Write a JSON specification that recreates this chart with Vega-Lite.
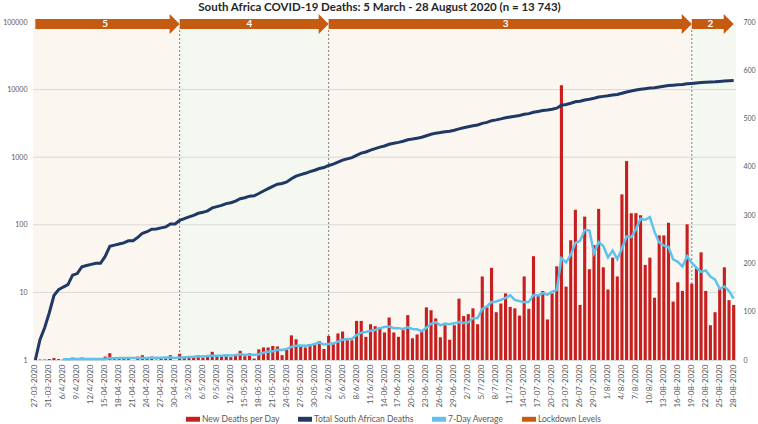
{
  "$schema": "https://vega.github.io/schema/vega-lite/v6.json",
  "width": 703,
  "height": 338,
  "autosize": {"type": "none"},
  "padding": {"left": 33, "top": 22, "right": 22, "bottom": 64},
  "background": "white",
  "title": {
    "text": "South Africa COVID-19 Deaths: 5 March - 28 August 2020 (n = 13 743)",
    "font": "Lato", "fontSize": 11.5, "fontWeight": "bold", "color": "#262626",
    "anchor": "middle", "frame": "group", "offset": 1, "dx": -5
  },
  "config": {
    "font": "Lato",
    "view": {"stroke": null, "fill": "#FCF6F1"}
  },
  "datasets": {
    "main": [
      {"d":"27-03-2020","n":1,"t":1,"a":null},
      {"d":"28-03-2020","n":1,"t":2,"a":null},
      {"d":"30-03-2020","n":1,"t":3,"a":null},
      {"d":"31-03-2020","n":2,"t":5,"a":null},
      {"d":"2/4/2020","n":4,"t":9,"a":null},
      {"d":"3/4/2020","n":2,"t":11,"a":null},
      {"d":"6/4/2020","n":1,"t":12,"a":1.7},
      {"d":"7/4/2020","n":1,"t":13,"a":1.7},
      {"d":"8/4/2020","n":5,"t":18,"a":2.3},
      {"d":"9/4/2020","n":1,"t":19,"a":2.3},
      {"d":"10/4/2020","n":5,"t":24,"a":2.7},
      {"d":"11/4/2020","n":1,"t":25,"a":2.3},
      {"d":"12/4/2020","n":1,"t":26,"a":2.1},
      {"d":"13-04-2020","n":1,"t":27,"a":2.1},
      {"d":"14-04-2020","n":0,"t":27,"a":2.0},
      {"d":"15-04-2020","n":7,"t":34,"a":2.3},
      {"d":"16-04-2020","n":14,"t":48,"a":4.1},
      {"d":"17-04-2020","n":2,"t":50,"a":3.7},
      {"d":"18-04-2020","n":2,"t":52,"a":3.9},
      {"d":"19-04-2020","n":2,"t":54,"a":4.0},
      {"d":"20-04-2020","n":4,"t":58,"a":4.4},
      {"d":"21-04-2020","n":0,"t":58,"a":4.4},
      {"d":"22-04-2020","n":7,"t":65,"a":4.4},
      {"d":"23-04-2020","n":10,"t":75,"a":3.9},
      {"d":"24-04-2020","n":4,"t":79,"a":4.1},
      {"d":"25-04-2020","n":7,"t":86,"a":4.9},
      {"d":"26-04-2020","n":1,"t":87,"a":4.7},
      {"d":"27-04-2020","n":3,"t":90,"a":4.6},
      {"d":"28-04-2020","n":3,"t":93,"a":5.0},
      {"d":"29-04-2020","n":10,"t":103,"a":5.4},
      {"d":"30-04-2020","n":0,"t":103,"a":4.0},
      {"d":"1/5/2020","n":13,"t":116,"a":5.3},
      {"d":"2/5/2020","n":7,"t":123,"a":5.3},
      {"d":"3/5/2020","n":8,"t":131,"a":6.3},
      {"d":"4/5/2020","n":7,"t":138,"a":6.9},
      {"d":"5/5/2020","n":10,"t":148,"a":7.9},
      {"d":"6/5/2020","n":5,"t":153,"a":7.1},
      {"d":"7/5/2020","n":8,"t":161,"a":8.3},
      {"d":"8/5/2020","n":17,"t":178,"a":8.9},
      {"d":"9/5/2020","n":8,"t":186,"a":9.0},
      {"d":"10/5/2020","n":8,"t":194,"a":9.0},
      {"d":"11/5/2020","n":12,"t":206,"a":9.7},
      {"d":"12/5/2020","n":6,"t":212,"a":9.1},
      {"d":"13-05-2020","n":12,"t":224,"a":10.1},
      {"d":"14-05-2020","n":19,"t":243,"a":11.7},
      {"d":"15-05-2020","n":8,"t":251,"a":10.4},
      {"d":"16-05-2020","n":14,"t":265,"a":11.3},
      {"d":"17-05-2020","n":3,"t":268,"a":10.6},
      {"d":"18-05-2020","n":22,"t":290,"a":12.0},
      {"d":"19-05-2020","n":26,"t":316,"a":14.9},
      {"d":"20-05-2020","n":26,"t":342,"a":16.9},
      {"d":"21-05-2020","n":29,"t":371,"a":18.3},
      {"d":"22-05-2020","n":28,"t":399,"a":21.1},
      {"d":"23-05-2020","n":10,"t":409,"a":20.6},
      {"d":"24-05-2020","n":21,"t":430,"a":23.1},
      {"d":"25-05-2020","n":51,"t":481,"a":27.3},
      {"d":"26-05-2020","n":43,"t":524,"a":29.7},
      {"d":"27-05-2020","n":28,"t":552,"a":30.0},
      {"d":"28-05-2020","n":26,"t":578,"a":29.6},
      {"d":"29-05-2020","n":33,"t":611,"a":30.3},
      {"d":"30-05-2020","n":31,"t":642,"a":33.3},
      {"d":"31-05-2020","n":39,"t":681,"a":35.9},
      {"d":"1/6/2020","n":23,"t":704,"a":31.9},
      {"d":"2/6/2020","n":50,"t":754,"a":32.9},
      {"d":"3/6/2020","n":36,"t":790,"a":34.0},
      {"d":"4/6/2020","n":55,"t":845,"a":38.1},
      {"d":"5/6/2020","n":59,"t":904,"a":41.9},
      {"d":"6/6/2020","n":41,"t":945,"a":43.3},
      {"d":"7/6/2020","n":41,"t":986,"a":43.6},
      {"d":"8/6/2020","n":81,"t":1067,"a":51.9},
      {"d":"9/6/2020","n":81,"t":1148,"a":56.3},
      {"d":"10/6/2020","n":48,"t":1196,"a":58.0},
      {"d":"11/6/2020","n":74,"t":1270,"a":60.7},
      {"d":"12/6/2020","n":70,"t":1340,"a":62.3},
      {"d":"13-06-2020","n":68,"t":1408,"a":66.1},
      {"d":"14-06-2020","n":57,"t":1465,"a":68.4},
      {"d":"15-06-2020","n":88,"t":1553,"a":69.4},
      {"d":"16-06-2020","n":57,"t":1610,"a":66.0},
      {"d":"17-06-2020","n":48,"t":1658,"a":66.0},
      {"d":"18-06-2020","n":62,"t":1720,"a":64.3},
      {"d":"19-06-2020","n":93,"t":1813,"a":67.6},
      {"d":"20-06-2020","n":45,"t":1858,"a":64.3},
      {"d":"21-06-2020","n":53,"t":1911,"a":63.7},
      {"d":"22-06-2020","n":59,"t":1970,"a":59.6},
      {"d":"23-06-2020","n":109,"t":2079,"a":67.0},
      {"d":"24-06-2020","n":103,"t":2182,"a":74.9},
      {"d":"25-06-2020","n":86,"t":2268,"a":78.3},
      {"d":"26-06-2020","n":47,"t":2315,"a":71.7},
      {"d":"27-06-2020","n":72,"t":2387,"a":75.6},
      {"d":"28-06-2020","n":42,"t":2429,"a":74.0},
      {"d":"29-06-2020","n":72,"t":2501,"a":75.9},
      {"d":"30-06-2020","n":127,"t":2628,"a":78.4},
      {"d":"1/7/2020","n":91,"t":2719,"a":76.7},
      {"d":"2/7/2020","n":95,"t":2814,"a":78.0},
      {"d":"3/7/2020","n":107,"t":2921,"a":86.6},
      {"d":"4/7/2020","n":74,"t":2995,"a":86.9},
      {"d":"5/7/2020","n":173,"t":3168,"a":105.6},
      {"d":"6/7/2020","n":110,"t":3278,"a":111.0},
      {"d":"7/7/2020","n":191,"t":3469,"a":120.1},
      {"d":"8/7/2020","n":99,"t":3568,"a":121.3},
      {"d":"9/7/2020","n":117,"t":3685,"a":124.4},
      {"d":"10/7/2020","n":138,"t":3823,"a":128.9},
      {"d":"11/7/2020","n":110,"t":3933,"a":134.0},
      {"d":"12/7/2020","n":107,"t":4040,"a":124.6},
      {"d":"13-07-2020","n":92,"t":4132,"a":122.0},
      {"d":"14-07-2020","n":173,"t":4305,"a":119.4},
      {"d":"15-07-2020","n":106,"t":4411,"a":120.4},
      {"d":"16-07-2020","n":215,"t":4626,"a":134.4},
      {"d":"17-07-2020","n":133,"t":4759,"a":133.7},
      {"d":"18-07-2020","n":143,"t":4902,"a":138.4},
      {"d":"19-07-2020","n":84,"t":4986,"a":135.1},
      {"d":"20-07-2020","n":138,"t":5124,"a":141.7},
      {"d":"21-07-2020","n":194,"t":5318,"a":144.7},
      {"d":"22-07-2020","n":569,"t":5887,"a":210.9},
      {"d":"23-07-2020","n":152,"t":6039,"a":201.9},
      {"d":"24-07-2020","n":248,"t":6287,"a":218.3},
      {"d":"25-07-2020","n":311,"t":6598,"a":242.3},
      {"d":"26-07-2020","n":114,"t":6712,"a":246.6},
      {"d":"27-07-2020","n":297,"t":7009,"a":269.3},
      {"d":"28-07-2020","n":188,"t":7197,"a":268.4},
      {"d":"29-07-2020","n":238,"t":7435,"a":221.1},
      {"d":"30-07-2020","n":313,"t":7748,"a":244.1},
      {"d":"31-07-2020","n":192,"t":7940,"a":236.1},
      {"d":"1/8/2020","n":146,"t":8086,"a":212.6},
      {"d":"2/8/2020","n":212,"t":8298,"a":226.6},
      {"d":"3/8/2020","n":173,"t":8471,"a":208.9},
      {"d":"4/8/2020","n":343,"t":8814,"a":231.0},
      {"d":"5/8/2020","n":412,"t":9226,"a":255.9},
      {"d":"6/8/2020","n":304,"t":9530,"a":254.6},
      {"d":"7/8/2020","n":304,"t":9834,"a":270.6},
      {"d":"8/8/2020","n":300,"t":10134,"a":292.6},
      {"d":"9/8/2020","n":197,"t":10331,"a":290.4},
      {"d":"10/8/2020","n":212,"t":10543,"a":296.0},
      {"d":"11/8/2020","n":129,"t":10672,"a":265.4},
      {"d":"12/8/2020","n":258,"t":10930,"a":243.4},
      {"d":"13-08-2020","n":258,"t":11188,"a":236.9},
      {"d":"14-08-2020","n":284,"t":11472,"a":234.0},
      {"d":"15-08-2020","n":121,"t":11593,"a":208.4},
      {"d":"16-08-2020","n":161,"t":11754,"a":203.3},
      {"d":"17-08-2020","n":143,"t":11897,"a":193.4},
      {"d":"18-08-2020","n":281,"t":12178,"a":215.1},
      {"d":"19-08-2020","n":158,"t":12336,"a":200.9},
      {"d":"20-08-2020","n":190,"t":12526,"a":191.1},
      {"d":"21-08-2020","n":223,"t":12749,"a":182.4},
      {"d":"22-08-2020","n":143,"t":12892,"a":185.6},
      {"d":"23-08-2020","n":72,"t":12964,"a":172.9},
      {"d":"24-08-2020","n":99,"t":13063,"a":166.6},
      {"d":"25-08-2020","n":147,"t":13210,"a":147.4},
      {"d":"26-08-2020","n":192,"t":13402,"a":152.3},
      {"d":"27-08-2020","n":124,"t":13526,"a":142.9},
      {"d":"28-08-2020","n":114,"t":13640,"a":127.3}
    ],
    "levels": [
      {"level":"5","start":"27-03-2020","end":"1/5/2020","mid":"15-04-2020"},
      {"level":"4","start":"1/5/2020","end":"2/6/2020","mid":"16-05-2020"},
      {"level":"3","start":"2/6/2020","end":"19-08-2020","mid":"10/7/2020"},
      {"level":"2","start":"19-08-2020","end":"28-08-2020","mid":"23-08-2020"}
    ],
    "grid": [{"g":10},{"g":100},{"g":1000},{"g":10000}]
  },
  "resolve": {"scale": {"y": "independent"}},
  "layer": [
    {
      "data": {"name": "main"},
      "mark": {"type": "bar", "opacity": 0},
      "encoding": {
        "x": {
          "field": "d", "type": "ordinal",
          "scale": {
            "type": "band", "paddingInner": 0.33, "paddingOuter": 0.165,
            "domain": ["27-03-2020","28-03-2020","30-03-2020","31-03-2020","2/4/2020","3/4/2020","6/4/2020","7/4/2020","8/4/2020","9/4/2020","10/4/2020","11/4/2020","12/4/2020","13-04-2020","14-04-2020","15-04-2020","16-04-2020","17-04-2020","18-04-2020","19-04-2020","20-04-2020","21-04-2020","22-04-2020","23-04-2020","24-04-2020","25-04-2020","26-04-2020","27-04-2020","28-04-2020","29-04-2020","30-04-2020","1/5/2020","2/5/2020","3/5/2020","4/5/2020","5/5/2020","6/5/2020","7/5/2020","8/5/2020","9/5/2020","10/5/2020","11/5/2020","12/5/2020","13-05-2020","14-05-2020","15-05-2020","16-05-2020","17-05-2020","18-05-2020","19-05-2020","20-05-2020","21-05-2020","22-05-2020","23-05-2020","24-05-2020","25-05-2020","26-05-2020","27-05-2020","28-05-2020","29-05-2020","30-05-2020","31-05-2020","1/6/2020","2/6/2020","3/6/2020","4/6/2020","5/6/2020","6/6/2020","7/6/2020","8/6/2020","9/6/2020","10/6/2020","11/6/2020","12/6/2020","13-06-2020","14-06-2020","15-06-2020","16-06-2020","17-06-2020","18-06-2020","19-06-2020","20-06-2020","21-06-2020","22-06-2020","23-06-2020","24-06-2020","25-06-2020","26-06-2020","27-06-2020","28-06-2020","29-06-2020","30-06-2020","1/7/2020","2/7/2020","3/7/2020","4/7/2020","5/7/2020","6/7/2020","7/7/2020","8/7/2020","9/7/2020","10/7/2020","11/7/2020","12/7/2020","13-07-2020","14-07-2020","15-07-2020","16-07-2020","17-07-2020","18-07-2020","19-07-2020","20-07-2020","21-07-2020","22-07-2020","23-07-2020","24-07-2020","25-07-2020","26-07-2020","27-07-2020","28-07-2020","29-07-2020","30-07-2020","31-07-2020","1/8/2020","2/8/2020","3/8/2020","4/8/2020","5/8/2020","6/8/2020","7/8/2020","8/8/2020","9/8/2020","10/8/2020","11/8/2020","12/8/2020","13-08-2020","14-08-2020","15-08-2020","16-08-2020","17-08-2020","18-08-2020","19-08-2020","20-08-2020","21-08-2020","22-08-2020","23-08-2020","24-08-2020","25-08-2020","26-08-2020","27-08-2020","28-08-2020"]
          },
          "axis": {
            "values": ["27-03-2020","31-03-2020","6/4/2020","9/4/2020","12/4/2020","15-04-2020","18-04-2020","21-04-2020","24-04-2020","27-04-2020","30-04-2020","3/5/2020","6/5/2020","9/5/2020","12/5/2020","15-05-2020","18-05-2020","21-05-2020","24-05-2020","27-05-2020","30-05-2020","2/6/2020","5/6/2020","8/6/2020","11/6/2020","14-06-2020","17-06-2020","20-06-2020","23-06-2020","26-06-2020","29-06-2020","2/7/2020","5/7/2020","8/7/2020","11/7/2020","14-07-2020","17-07-2020","20-07-2020","23-07-2020","26-07-2020","29-07-2020","1/8/2020","4/8/2020","7/8/2020","10/8/2020","13-08-2020","16-08-2020","19-08-2020","22-08-2020","25-08-2020","28-08-2020"],
            "labelAngle": -90, "labelFont": "Lato", "labelFontSize": 8, "labelColor": "#595959",
            "ticks": false, "labelPadding": 4, "domain": true, "domainColor": "#D9D9D9",
            "title": null, "grid": false, "labelOverlap": false, "labelBound": false
          }
        },
        "y": {
          "field": "n", "type": "quantitative",
          "scale": {"domain": [0, 700], "nice": false},
          "axis": {
            "orient": "right", "values": [0, 100, 200, 300, 400, 500, 600, 700], "format": "d",
            "labelFont": "Lato", "labelFontSize": 7, "labelColor": "#595959",
            "ticks": false, "domain": false, "grid": false, "title": null, "labelPadding": 7
          }
        }
      }
    },
    {
      "data": {"name": "levels"},
      "transform": [{"filter": "datum.level == '4'"}],
      "mark": {"type": "rect", "color": "#F4F8F1"},
      "encoding": {
        "x": {"field": "start", "type": "ordinal", "bandPosition": 0.5},
        "x2": {"field": "end", "bandPosition": 0.5},
        "y": {"value": 0},
        "y2": {"value": "height"}
      }
    },
    {
      "data": {"name": "levels"},
      "transform": [{"filter": "datum.level == '2'"}],
      "mark": {"type": "rect", "color": "#F4F8F1"},
      "encoding": {
        "x": {"field": "start", "type": "ordinal", "bandPosition": 0.5},
        "x2": {"value": "width"},
        "y": {"value": 0},
        "y2": {"value": "height"}
      }
    },
    {
      "data": {"name": "grid"},
      "mark": {"type": "rule", "color": "#D9D9D9", "strokeWidth": 1},
      "encoding": {
        "y": {"field": "g", "type": "quantitative", "scale": {"type": "log", "domain": [1, 100000], "nice": false}, "axis": null}
      }
    },
    {
      "data": {"name": "levels"},
      "transform": [{"filter": "datum.level != '5'"}],
      "mark": {"type": "rule", "color": "#7F7F7F", "strokeDash": [2, 2], "strokeWidth": 1},
      "encoding": {
        "x": {"field": "start", "type": "ordinal", "bandPosition": 0.5},
        "y": {"value": 8},
        "y2": {"value": "height"}
      }
    },
    {
      "data": {"name": "main"},
      "mark": {"type": "bar"},
      "encoding": {
        "x": {"field": "d", "type": "ordinal"},
        "y": {
          "field": "n", "type": "quantitative",
          "scale": {"domain": [0, 700], "nice": false},
          "axis": null
        },
        "color": {
          "datum": "New Deaths per Day", "type": "nominal",
          "scale": {
            "domain": ["New Deaths per Day", "Total South African Deaths", "7-Day Average", "Lockdown Levels"],
            "range": ["#C81E1E", "#1F3864", "#5EC2EC", "#C55A11"]
          },
          "legend": {
            "orient": "none", "legendX": 153, "legendY": 390, "direction": "horizontal", "columns": 4,
            "title": null, "labelFont": "Lato", "labelFontSize": 8.5, "labelColor": "#595959",
            "symbolType": "M-1,-0.35H1V0.35H-1Z", "symbolSize": 196, "symbolStrokeWidth": 0,
            "columnPadding": 18, "labelOffset": 2, "padding": 0
          }
        }
      }
    },
    {
      "data": {"name": "main"},
      "mark": {"type": "line", "strokeWidth": 2.5},
      "encoding": {
        "x": {"field": "d", "type": "ordinal", "bandPosition": 0.5},
        "y": {"field": "a", "type": "quantitative", "scale": {"domain": [0, 700], "nice": false}, "axis": null},
        "color": {"datum": "7-Day Average", "type": "nominal"},
        "order": {"value": null}
      }
    },
    {
      "data": {"name": "main"},
      "mark": {"type": "line", "strokeWidth": 3},
      "encoding": {
        "x": {"field": "d", "type": "ordinal", "bandPosition": 0.5},
        "y": {
          "field": "t", "type": "quantitative",
          "scale": {"type": "log", "domain": [1, 100000], "nice": false},
          "axis": {
            "orient": "left", "values": [1, 10, 100, 1000, 10000, 100000], "format": "d",
            "labelFont": "Lato", "labelFontSize": 7, "labelColor": "#595959",
            "ticks": false, "domain": false, "grid": false, "title": null, "labelPadding": 6
          }
        },
        "color": {"datum": "Total South African Deaths", "type": "nominal"},
        "order": {"value": null}
      }
    },
    {
      "data": {"name": "levels"},
      "mark": {"type": "rule", "strokeWidth": 10, "x2Offset": -9},
      "encoding": {
        "x": {"field": "start", "type": "ordinal", "bandPosition": 0.5},
        "x2": {"field": "end", "bandPosition": 0.5},
        "y": {"value": 2},
        "color": {"datum": "Lockdown Levels", "type": "nominal"}
      }
    },
    {
      "data": {"name": "levels"},
      "mark": {"type": "point", "filled": true, "opacity": 1, "shape": "M-1,-1L0,0L-1,1Z", "size": 400, "strokeWidth": 0},
      "encoding": {
        "x": {"field": "end", "type": "ordinal", "bandPosition": 0.5},
        "y": {"value": 2},
        "color": {"datum": "Lockdown Levels", "type": "nominal"}
      }
    },
    {
      "data": {"name": "levels"},
      "mark": {"type": "text", "color": "white", "fontWeight": "bold", "fontSize": 10, "font": "Lato", "baseline": "middle", "align": "center"},
      "encoding": {
        "x": {"field": "mid", "type": "ordinal", "bandPosition": 0.5},
        "y": {"value": 2},
        "text": {"field": "level"}
      }
    }
  ]
}
